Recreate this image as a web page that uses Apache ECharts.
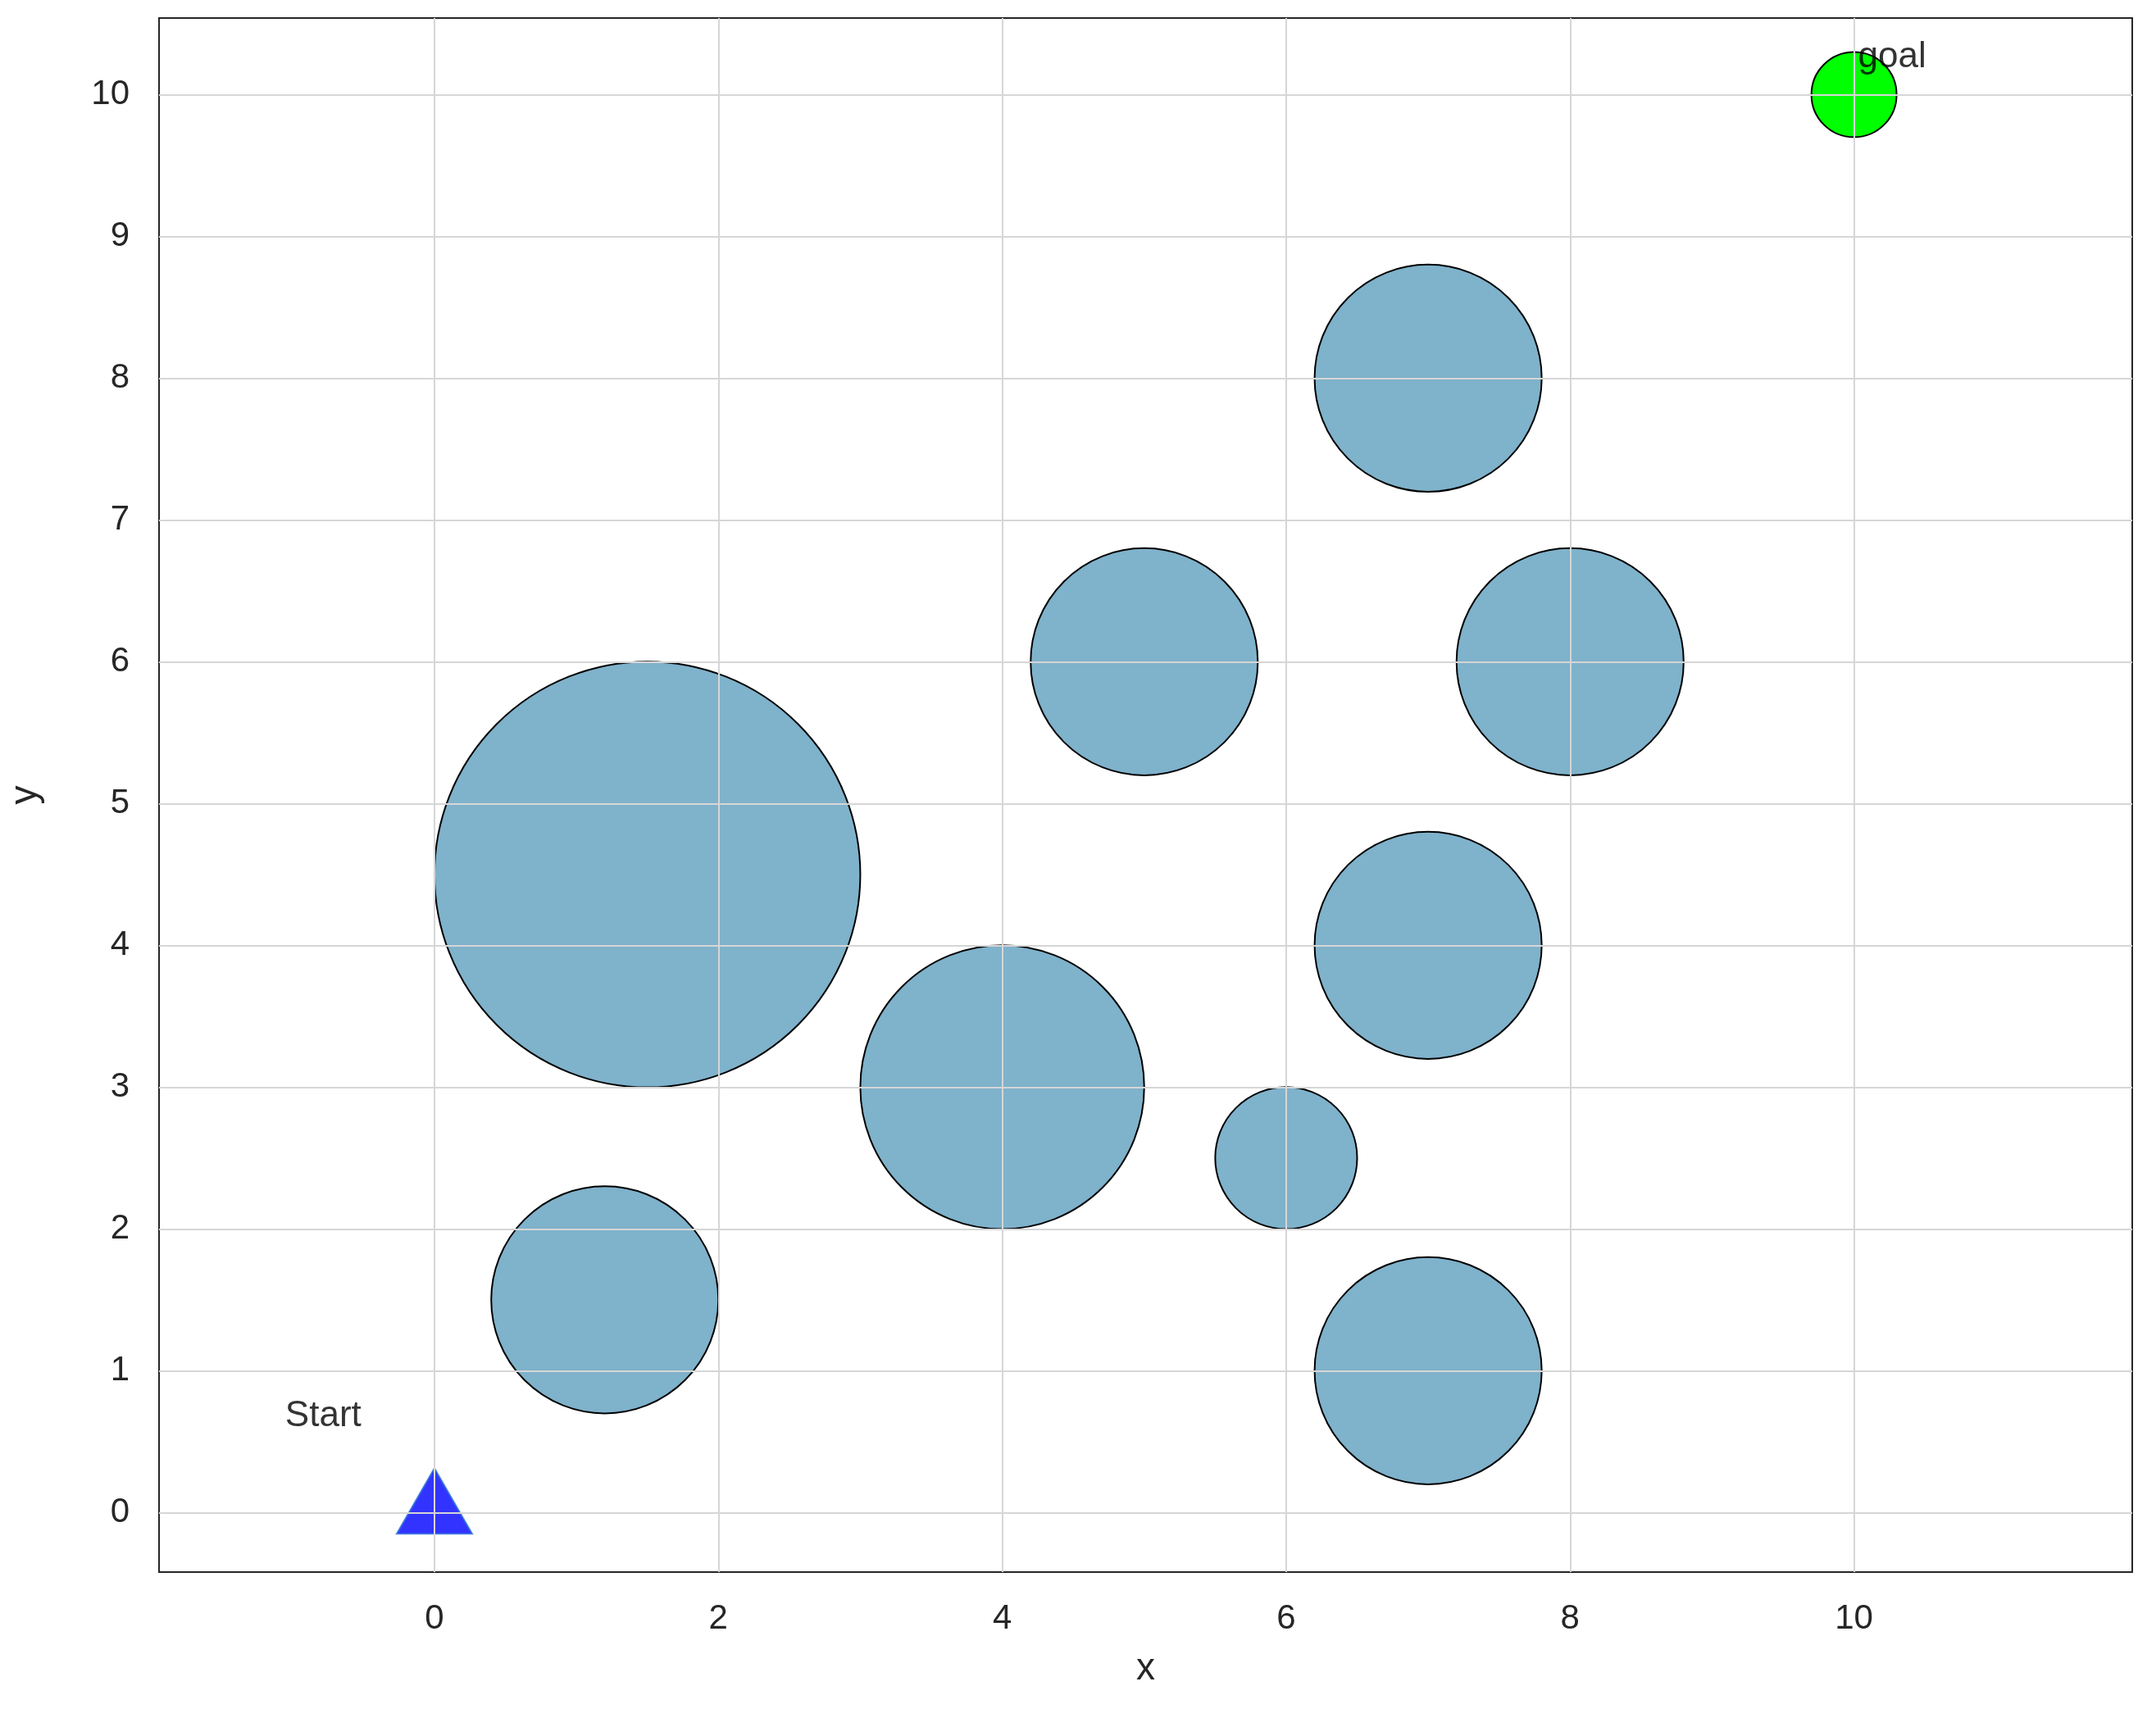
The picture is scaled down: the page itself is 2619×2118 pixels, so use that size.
<!DOCTYPE html>
<html>
<head>
<meta charset="utf-8">
<script src="https://cdn.jsdelivr.net/npm/echarts@6/dist/echarts.min.js"></script>
<style>html,body{margin:0;padding:0;background:#fff}</style>
</head>
<body>
<div id="main" style="width:2619px;height:2118px;"></div>
<script>
// obstacles: [x, y, radius]
var obstacles = [[1.5,4.5,1.5],[4,3,1],[1.2,1.5,0.8],[5,6,0.8],[8,6,0.8],[7,8,0.8],[7,4,0.8],[7,1,0.8],[6,2.5,0.5]];
var startPoint = [0, 0];
var goalPoint = [10, 10, 0.3];
var xTicks = [0,2,4,6,8,10];
var yTicks = [0,1,2,3,4,5,6,7,8,9,10];

var chart = echarts.init(document.getElementById('main'));

function circleItem(params, api){
    var c = api.coord([api.value(0), api.value(1)]);
    var r = api.size([api.value(2), 0])[0];
    return {type:'circle', shape:{cx:c[0], cy:c[1], r:r},
        style:{fill:api.value(3) ? '#00ff00' : '#7fb2cb', stroke:'#000', lineWidth:2}};
}

var gridLines = [];
xTicks.forEach(function(v){ gridLines.push({xAxis:v}); });
yTicks.forEach(function(v){ gridLines.push({yAxis:v}); });

var option = {
    animation:false,
    grid:{left:193, right:18, top:22, bottom:200, show:true, borderColor:'#262626', borderWidth:2},
    xAxis:{
        type:'value', min:-1.94, max:11.96, name:'x', nameLocation:'middle', nameGap:95,
        nameTextStyle:{fontSize:46, color:'#262626', fontFamily:'Liberation Sans'},
        axisLine:{show:false}, splitLine:{show:false},
        axisTick:{show:false},
        axisLabel:{customValues:xTicks, fontSize:42, color:'#262626', margin:36, fontFamily:'Liberation Sans'}
    },
    yAxis:{
        type:'value', min:-0.42, max:10.54, name:'y', nameLocation:'middle', nameGap:140,
        nameTextStyle:{fontSize:46, color:'#262626', fontFamily:'Liberation Sans'},
        axisLine:{show:false}, splitLine:{show:false},
        axisTick:{show:false},
        axisLabel:{customValues:yTicks, fontSize:42, color:'#262626', margin:36, fontFamily:'Liberation Sans'}
    },
    series:[
        {type:'line', data:[], silent:true,
         markLine:{silent:true, symbol:'none', label:{show:false}, animation:false,
            lineStyle:{color:'#d6d6d6', type:'solid', width:2}, data:gridLines}},
        {type:'custom', renderItem:circleItem,
         data:obstacles.map(function(o){ return [o[0], o[1], o[2], 0]; }), z:3},
        {type:'custom', renderItem:circleItem, data:[[goalPoint[0], goalPoint[1], goalPoint[2], 1]], z:3},
        {type:'scatter', data:[[goalPoint[0], goalPoint[1]]], symbolSize:0, z:4,
         label:{show:true, formatter:'goal', position:[5,-68], fontSize:44, color:'#000', fontFamily:'Liberation Sans'}},
        {type:'scatter', data:[startPoint], symbol:'triangle', symbolSize:[92,80], symbolOffset:[0,-14], z:4,
         itemStyle:{color:'#0000ff', borderColor:'#2a6fd6', borderWidth:2},
         label:{show:true, formatter:'Start', position:[-135,-85], fontSize:44, color:'#000', fontFamily:'Liberation Sans'}}
    ]
};
chart.setOption(option);
</script>
</body>
</html>
